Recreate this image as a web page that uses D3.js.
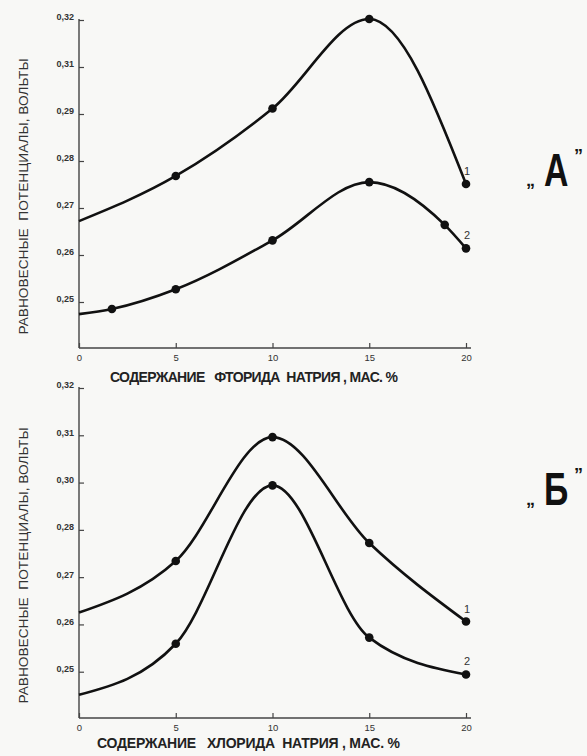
<!DOCTYPE html>
<html>
<head>
<meta charset="utf-8">
<script src="https://cdn.jsdelivr.net/npm/d3@7"></script>
<style>
  body { margin: 0; background: #f8f8f6; }
  svg { display: block; }
  .tick text { font-family: "Liberation Sans", Arial, sans-serif; }
  .title { white-space: pre; }
</style>
</head>
<body>
<div id="chart"></div>
<script>
// values
var xTicks = [0, 5, 10, 15, 20];

// panel A (sodium fluoride)
var yTicksA = [0.25, 0.26, 0.27, 0.28, 0.29, 0.31, 0.32];
var xA1 = [0, 5, 10, 15, 20];
var yA1 = [0.267, 0.2766, 0.2919, 0.3200, 0.2749];
var xA2 = [0, 1.7, 5, 10, 15, 18.9, 20];
var yA2 = [0.2472, 0.2483, 0.2525, 0.2629, 0.2753, 0.2662, 0.2612];

// panel B (sodium chloride)
var yTicksB = [0.25, 0.26, 0.27, 0.28, 0.30, 0.31, 0.32];
var xB = [0, 5, 10, 15, 20];
var yB1 = [0.2623, 0.2732, 0.3094, 0.2770, 0.2604];
var yB2 = [0.2449, 0.2557, 0.2984, 0.2570, 0.2492];

var yTitle = "РАВНОВЕСНЫЕ  ПОТЕНЦИАЛЫ, ВОЛЬТЫ";
var xTitleA = "СОДЕРЖАНИЕ   ФТОРИДА  НАТРИЯ , МАС. %";
var xTitleB = "СОДЕРЖАНИЕ   ХЛОРИДА  НАТРИЯ , МАС. %";

var W = 587, H = 756;
var svg = d3.select("#chart").append("svg")
  .attr("width", W).attr("height", H);

svg.append("rect").attr("width", W).attr("height", H).attr("fill", "#f8f8f6");

var x = d3.scaleLinear().domain([0, 20]).range([79, 466]);

function draw_panel(top, bottom, yTicks, series, xTitle, letter, letterY, titleX, titleY, titleLen) {
  // uneven tick labels on the original: one scale segment per tick
  var domain = [0.24].concat(yTicks);
  var step = (bottom - top) / (domain.length - 1);
  var y = d3.scaleLinear()
    .domain(domain)
    .range(domain.map(function(d, i) { return bottom - i * step; }));

  var g = svg.append("g");

  // y axis
  var yAxis = d3.axisLeft(y).tickValues(yTicks)
    .tickSize(-5).tickPadding(5)
    .tickFormat(function(d) { return d3.format(".2f")(d).replace(".", ","); });
  var ya = g.append("g").attr("transform", "translate(" + x(0) + ",0)").call(yAxis);
  ya.select(".domain").remove();
  ya.append("line").attr("x1", 0).attr("x2", 0).attr("y1", y(0.32)).attr("y2", bottom)
    .attr("stroke", "#444").attr("stroke-width", 1.4);
  ya.selectAll(".tick line").attr("stroke", "#444").attr("stroke-width", 1.2)
    .attr("transform", "translate(0,1)");
  ya.selectAll(".tick text").attr("font-size", 9).attr("fill", "#333")
    .attr("font-weight", "bold").attr("dy", "0.1em");

  // x axis
  var xAxis = d3.axisBottom(x).tickValues(xTicks).tickSize(-5).tickPadding(6);
  var xa = g.append("g").attr("transform", "translate(0," + bottom + ")").call(xAxis);
  xa.select(".domain").remove();
  xa.append("line").attr("x1", x(0)).attr("x2", 471).attr("y1", 0).attr("y2", 0)
    .attr("stroke", "#444").attr("stroke-width", 1.4);
  xa.selectAll(".tick line").attr("stroke", "#444").attr("stroke-width", 1.2);
  xa.selectAll(".tick text").attr("font-size", 9.5).attr("fill", "#333");

  var line = d3.line()
    .x(function(d) { return x(d[0]); })
    .y(function(d) { return y(d[1]); })
    .curve(d3.curveMonotoneX);

  series.forEach(function(s, k) {
    var pts = s.xs.map(function(v, i) { return [v, s.ys[i]]; });
    g.append("path").datum(pts)
      .attr("d", line)
      .attr("fill", "none")
      .attr("stroke", "#111")
      .attr("stroke-width", 2.6);
    g.selectAll(".dot" + k).data(pts.filter(function(d) { return d[0] > 0; }))
      .enter().append("circle")
      .attr("cx", function(d) { return x(d[0]); })
      .attr("cy", function(d) { return y(d[1]); })
      .attr("r", 4.3)
      .attr("fill", "#111");
    var last = pts[pts.length - 1];
    g.append("text")
      .attr("x", x(last[0]) + 1)
      .attr("y", y(last[1]) - 9)
      .attr("text-anchor", "middle")
      .attr("font-family", "Liberation Sans, Arial, sans-serif")
      .attr("font-size", 11)
      .attr("fill", "#333")
      .text(k + 1);
  });

  // y title
  var mid = (top + 40 + bottom - 14) / 2;
  g.append("text")
    .attr("class", "title")
    .attr("transform", "translate(28," + mid + ") rotate(-90)")
    .attr("text-anchor", "middle")
    .attr("font-family", "Liberation Sans, Arial, sans-serif")
    .attr("font-size", 12.5)
    .attr("fill", "#333")
    .attr("textLength", 276)
    .attr("lengthAdjust", "spacingAndGlyphs")
    .text(yTitle);

  // x title
  g.append("text")
    .attr("class", "title")
    .attr("x", titleX).attr("y", titleY)
    .attr("font-family", "Liberation Sans, Arial, sans-serif")
    .attr("font-size", 14)
    .attr("font-weight", "bold")
    .attr("fill", "#222")
    .attr("textLength", titleLen)
    .attr("lengthAdjust", "spacing")
    .text(xTitle);

  // panel letter in quotes
  var lg = g.append("g").attr("transform", "translate(526," + letterY + ")");
  lg.append("text").attr("x", 0).attr("y", 0)
    .attr("font-family", "Liberation Sans, Arial, sans-serif")
    .attr("font-size", 18).attr("font-weight", "bold").attr("fill", "#111")
    .text("„");
  lg.append("text")
    .attr("transform", "translate(18,0) scale(0.72,1)")
    .attr("font-family", "Liberation Sans, Arial, sans-serif")
    .attr("font-size", 47).attr("font-weight", "bold").attr("fill", "#111")
    .text(letter);
  lg.append("text").attr("x", 48).attr("y", -24)
    .attr("font-family", "Liberation Sans, Arial, sans-serif")
    .attr("font-size", 18).attr("font-weight", "bold").attr("fill", "#111")
    .text("\u201D");
}

draw_panel(19, 348, yTicksA,
  [{ xs: xA1, ys: yA1 }, { xs: xA2, ys: yA2 }],
  xTitleA, "А", 186, 110, 382, 288);

draw_panel(387, 718, yTicksB,
  [{ xs: xB, ys: yB1 }, { xs: xB, ys: yB2 }],
  xTitleB, "Б", 505, 97, 748, 303);
</script>
</body>
</html>
